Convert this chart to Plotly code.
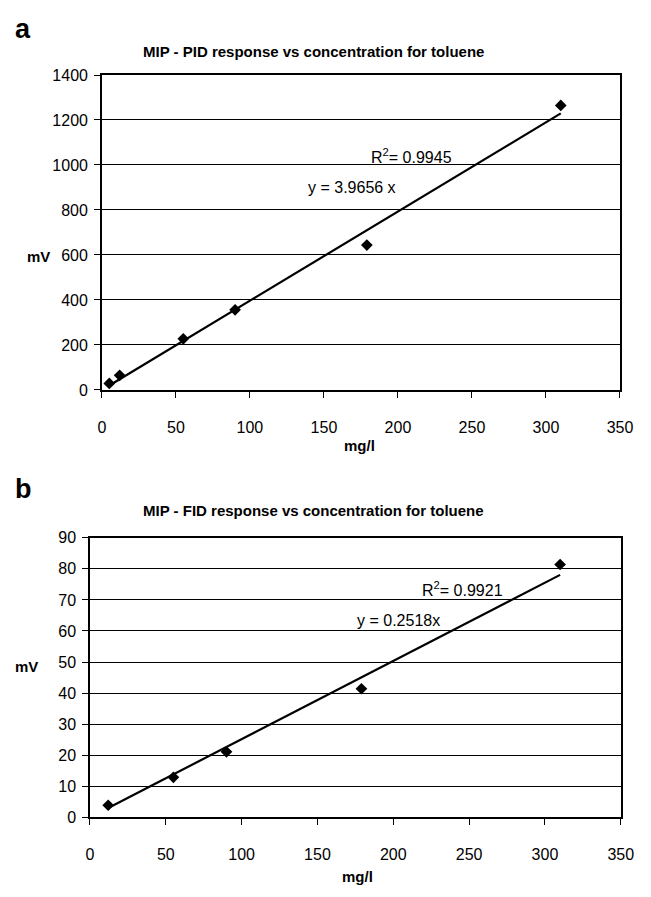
import plotly.graph_objects as go

W, H = 651, 897

# ---- data ----
pid_conc = [5, 12, 55, 90, 179, 310]
pid_mv = [29, 65, 227, 356, 644, 1265]
pid_slope = 3.9656
pid_r2 = "0.9945"

fid_conc = [12, 55, 90, 179, 310]
fid_mv = [3.9, 12.9, 21.1, 41.4, 81.4]
fid_slope = 0.2518
fid_r2 = "0.9921"

x_ticks = [0, 50, 100, 150, 200, 250, 300, 350]
pid_y_ticks = [0, 200, 400, 600, 800, 1000, 1200, 1400]
fid_y_ticks = [0, 10, 20, 30, 40, 50, 60, 70, 80, 90]

FONT = "Liberation Sans, Arial, sans-serif"


def px(x):
    return x / W


def py(y):
    return 1 - y / H


fig = go.Figure()

fig.add_trace(go.Scatter(x=pid_conc, y=pid_mv, mode="markers",
                         marker=dict(symbol="diamond", size=9, color="black"),
                         xaxis="x", yaxis="y", showlegend=False))
fit_x_a = [min(pid_conc), max(pid_conc)]
fig.add_trace(go.Scatter(x=fit_x_a, y=[pid_slope * v for v in fit_x_a], mode="lines",
                         line=dict(color="black", width=2.2),
                         xaxis="x", yaxis="y", showlegend=False))

fig.add_trace(go.Scatter(x=fid_conc, y=fid_mv, mode="markers",
                         marker=dict(symbol="diamond", size=9, color="black"),
                         xaxis="x2", yaxis="y2", showlegend=False))
fit_x_b = [min(fid_conc), max(fid_conc)]
fig.add_trace(go.Scatter(x=fit_x_b, y=[fid_slope * v for v in fit_x_b], mode="lines",
                         line=dict(color="black", width=2.2),
                         xaxis="x2", yaxis="y2", showlegend=False))

tickfont = dict(family=FONT, size=16, color="black")

common_x = dict(range=[0, 350], tickvals=x_ticks, ticks="outside", ticklen=6,
                tickcolor="black", tickwidth=1.3, showgrid=False, zeroline=False,
                showline=True, linecolor="black", linewidth=1.5, mirror=True,
                tickfont=tickfont, ticklabelstandoff=16, fixedrange=True)
common_y = dict(ticks="outside", ticklen=6, tickcolor="black", tickwidth=1.3,
                showgrid=True, gridcolor="black", gridwidth=1.4, zeroline=False,
                showline=True, linecolor="black", linewidth=1.5, mirror=True,
                tickfont=tickfont, ticklabelstandoff=3, fixedrange=True)

fig.update_layout(
    width=W, height=H,
    margin=dict(l=0, r=0, t=0, b=0),
    paper_bgcolor="white", plot_bgcolor="white",
    xaxis=dict(domain=[px(100.5), px(632.5)], anchor="y", **common_x),
    yaxis=dict(domain=[py(389.3), py(68.3)], anchor="x", range=[0, 1400],
               tickvals=pid_y_ticks, **common_y),
    xaxis2=dict(domain=[px(88.3), px(633.3)], anchor="y2", **common_x),
    yaxis2=dict(domain=[py(825), py(540)], anchor="x2", range=[0, 90],
                tickvals=fid_y_ticks, **common_y),
)


def paper_text(text, x, y, size, bold=True):
    return dict(text=f"<b>{text}</b>" if bold else text, x=px(x), y=py(y),
                xref="paper", yref="paper", xanchor="center", yanchor="middle",
                showarrow=False, font=dict(family=FONT, size=size, color="black"))


ann = [
    paper_text("a", 20, 21, 27),
    paper_text("b", 20, 490, 27),
    paper_text("MIP - PID response vs concentration for toluene", 318, 44, 15),
    paper_text("MIP - FID response vs concentration for toluene", 318, 512, 15),
    paper_text("mV", 35, 253, 15),
    paper_text("mV", 23.5, 671, 15),
    paper_text("mg/l", 365, 446, 15),
    paper_text("mg/l", 363, 885, 15),
]

eqfont = dict(family=FONT, size=16, color="black")
ann.append(dict(text=f"R<sup>2</sup>= {pid_r2}", x=180.6, y=1040, xref="x", yref="y",
                xanchor="left", yanchor="middle", showarrow=False, font=eqfont))
ann.append(dict(text=f"y = {pid_slope} x", x=137.8, y=900, xref="x", yref="y",
                xanchor="left", yanchor="middle", showarrow=False, font=eqfont))
ann.append(dict(text=f"R<sup>2</sup>= {fid_r2}", x=217.3, y=73.6, xref="x2", yref="y2",
                xanchor="left", yanchor="middle", showarrow=False, font=eqfont))
ann.append(dict(text=f"y = {fid_slope}x", x=174.5, y=63.3, xref="x2", yref="y2",
                xanchor="left", yanchor="middle", showarrow=False, font=eqfont))

fig.update_layout(annotations=ann)

fig.write_html(
    "out.html", config={"responsive": False, "displayModeBar": False},
    post_script=(
        "document.body.style.margin='0';document.body.style.padding='0';"
        "document.documentElement.style.overflow='hidden';"
    ),
)
